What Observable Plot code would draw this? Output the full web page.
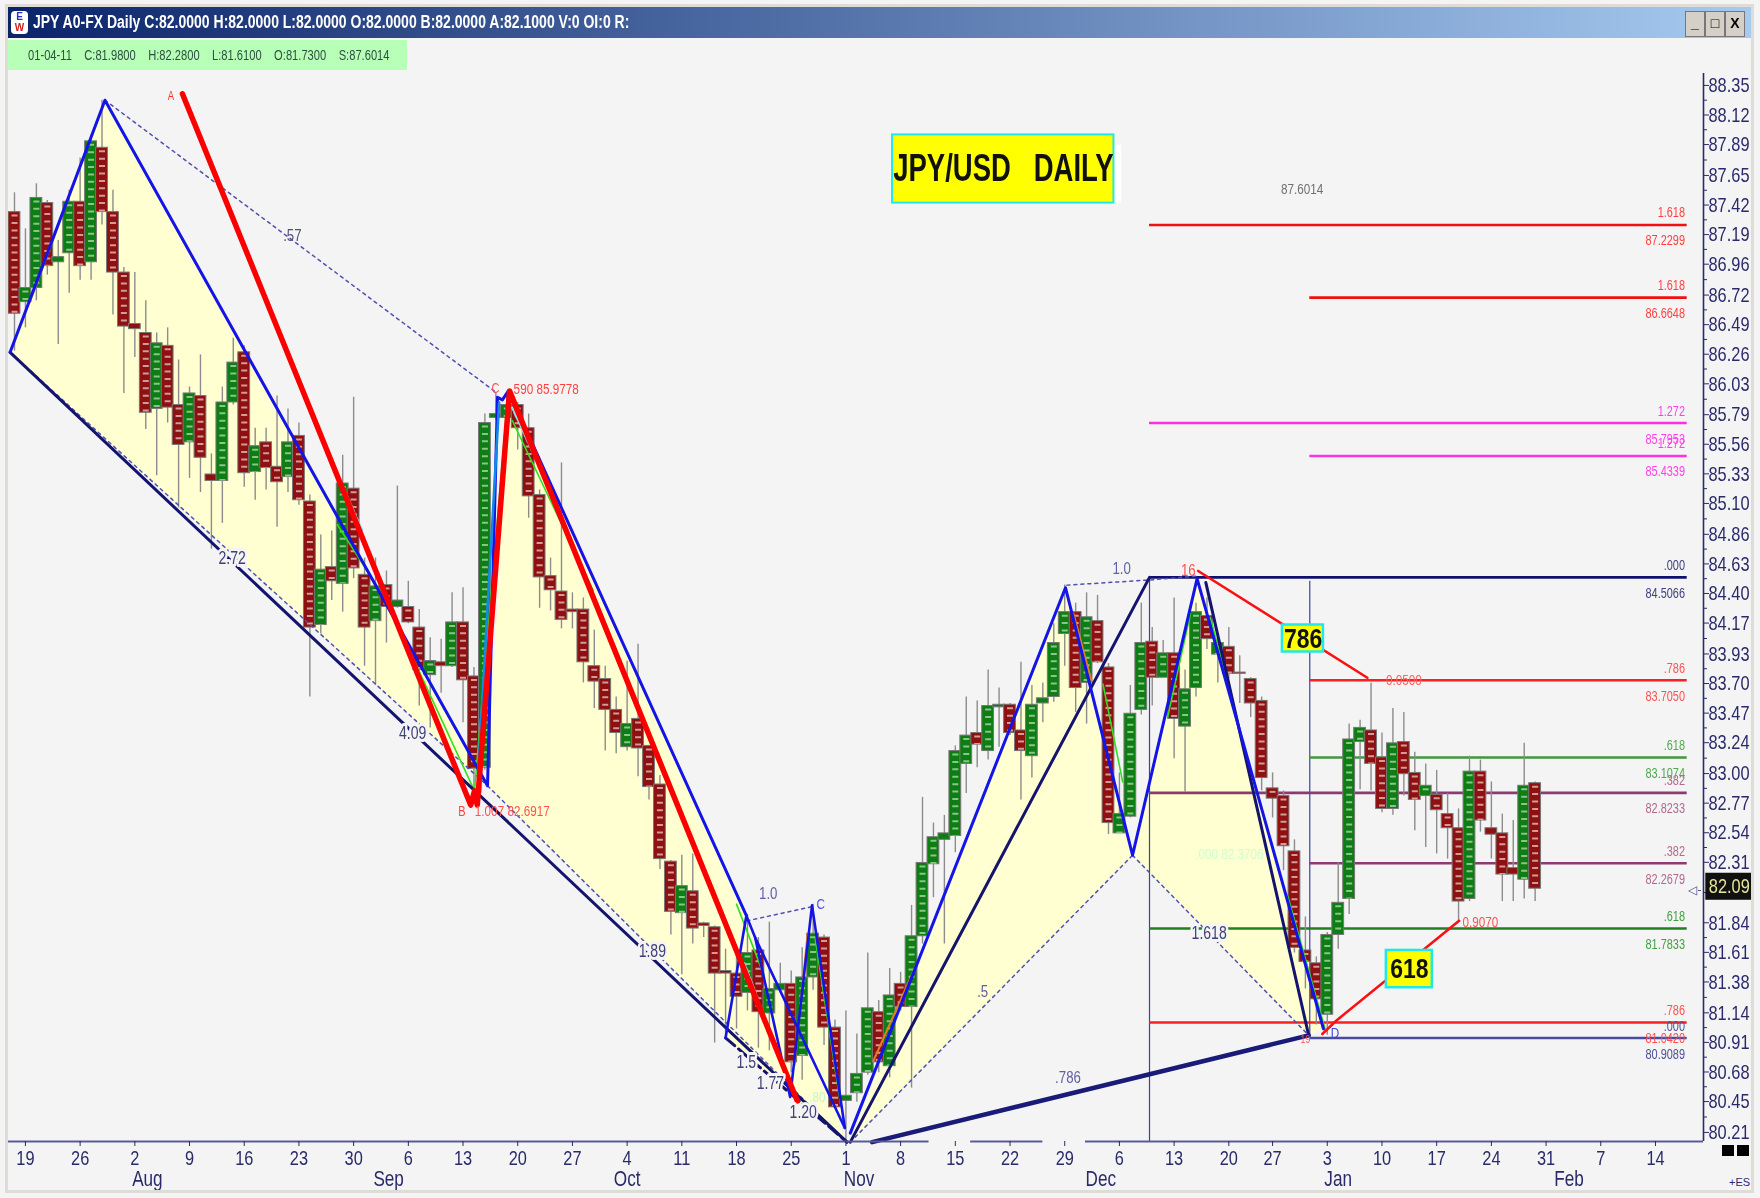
<!DOCTYPE html>
<html><head><meta charset="utf-8">
<script src="https://cdn.jsdelivr.net/npm/d3@7"></script>
<script src="https://cdn.jsdelivr.net/npm/@observablehq/plot@0.6"></script>
<style>
html,body{margin:0;padding:0;background:#f4f4f4;}
#win{position:relative;width:1760px;height:1198px;overflow:hidden;background:#f4f4f4;}
#frame{position:absolute;left:5px;top:4px;right:6px;bottom:5px;border:3px solid #dedcd6;pointer-events:none;z-index:5;}
#title{height:39px;box-sizing:border-box;padding:7px 9px 0 8px;}
#bar{height:31px;background:linear-gradient(90deg,#0a246a,#a6caf0);color:#fff;font:bold 17.5px "Liberation Sans",sans-serif;line-height:30px;white-space:nowrap;position:relative;filter:blur(.4px);}
#bar b{position:absolute;left:25px;top:0;display:block;transform:scaleX(.8);transform-origin:0 50%;}
#icon{position:absolute;left:3px;top:4px;width:17px;height:23px;background:#fff;border-radius:4px;font:bold 10px/11px "Liberation Sans";text-align:center;}
#icon i{font-style:normal;display:block;color:#2030d0;}
#icon u{text-decoration:none;display:block;color:#d02020;}
#btns{position:absolute;right:6px;top:4px;display:flex;}
#btns span{display:block;width:18px;height:24px;background:#d4d0c8;border:1px solid #777;color:#000;font:bold 14px/22px "Liberation Sans";text-align:center;}
#green{position:absolute;left:8px;top:40px;width:399px;height:30px;background:#b8ffb8;z-index:3;filter:blur(.4px);}
#green span{position:absolute;left:20px;top:0;color:#2c5040;font:15.5px/30px "Liberation Sans",sans-serif;white-space:pre;transform:scaleX(.72);transform-origin:0 50%;}
svg{display:block;filter:blur(.45px);}
#sq{position:absolute;left:1722px;top:1145px;width:27px;height:11px;background:linear-gradient(90deg,#000 46%,transparent 46%,transparent 54%,#000 54%);z-index:3;}
#es{position:absolute;left:1729px;top:1176px;font:11px "Liberation Sans";color:#2a2a6a;z-index:3;}
</style></head><body>
<div id="win">
<div id="frame"></div>
<div id="title"><div id="bar"><div id="icon"><i>E</i><u>W</u></div><b>JPY A0-FX Daily C:82.0000 H:82.0000 L:82.0000 O:82.0000 B:82.0000 A:82.1000 V:0 OI:0 R:</b><div id="btns"><span>_</span><span>□</span><span>X</span></div></div></div>
<div id="green"><span>01-04-11    C:81.9800    H:82.2800    L:81.6100    O:81.7300    S:87.6014</span></div>
<div id="chart"></div>
<div id="sq"></div><div id="es">+ES</div>
</div>
<script>
const open = [87.33,86.63,86.74,87.40,86.94,87.01,87.41,86.94,87.83,87.33,86.86,86.46,86.39,85.80,86.29,85.83,85.54,85.90,85.29,85.24,85.85,86.24,85.31,85.54,85.35,85.27,85.59,85.08,84.12,84.57,84.44,85.18,84.51,84.15,84.43,84.26,84.26,84.10,83.73,83.83,83.80,84.14,83.72,83.01,85.73,85.73,85.83,85.65,85.13,84.50,84.38,84.24,84.24,83.80,83.70,83.46,83.17,83.39,83.18,82.88,82.28,81.88,82.05,81.80,81.77,81.43,81.41,81.26,81.59,81.10,81.28,81.33,80.77,81.38,81.69,80.99,80.42,80.48,80.64,81.11,80.69,81.33,81.15,81.70,82.26,82.45,82.48,83.04,83.28,83.14,83.48,83.50,83.30,83.10,83.51,83.56,84.05,84.22,83.67,84.15,83.79,82.50,82.63,83.46,83.99,83.71,83.90,83.33,83.63,84.19,83.89,83.95,83.75,83.70,83.53,82.85,82.79,82.36,81.59,81.49,81.09,81.71,81.99,83.21,83.30,83.09,82.69,83.21,82.97,82.79,82.80,82.65,82.54,81.99,82.98,82.54,82.50,82.23,82.14,82.89];
const high = [87.48,87.20,87.55,87.42,87.11,87.50,87.75,87.93,88.20,87.50,86.90,86.86,86.64,86.39,86.43,86.18,85.97,86.22,85.45,85.97,86.35,86.29,85.65,85.65,85.90,85.80,85.69,85.13,84.82,84.85,85.44,85.89,84.64,84.64,84.54,85.20,84.46,84.24,84.02,84.01,84.37,84.41,83.79,85.76,85.92,85.92,85.85,85.76,85.17,84.64,85.38,84.37,84.33,84.08,83.80,83.56,83.84,83.97,83.18,82.95,82.29,82.33,82.34,81.81,81.78,81.60,81.60,81.87,81.69,81.81,81.49,81.43,81.61,81.95,81.71,81.05,81.12,80.94,81.57,81.20,81.45,81.42,81.94,82.78,82.58,82.64,83.18,83.56,83.53,83.77,83.63,83.51,83.83,83.65,83.67,84.13,84.43,84.29,84.37,84.35,83.82,82.97,83.65,84.29,84.10,84.00,84.33,83.77,84.29,84.33,84.05,84.10,83.88,83.71,83.56,82.97,82.83,82.45,81.85,81.54,81.73,82.27,83.35,83.38,83.67,83.28,83.47,83.44,83.13,83.04,82.99,82.81,82.69,83.10,83.07,82.90,82.65,82.60,83.20,82.90];
const low = [86.25,86.43,86.64,86.84,86.30,86.70,86.80,86.80,87.23,86.53,85.92,86.20,85.64,85.28,85.69,85.03,85.26,85.15,84.71,84.91,85.83,85.19,85.09,85.17,84.88,85.15,85.05,83.56,84.05,84.31,84.22,84.48,83.80,83.65,83.98,84.25,84.13,83.49,83.32,83.59,83.79,83.36,82.72,82.99,85.71,85.73,85.48,84.95,84.25,84.23,84.09,84.09,83.67,83.47,83.14,83.12,83.14,82.94,82.76,82.22,81.71,81.40,81.64,81.69,80.87,80.91,80.98,81.12,80.83,80.81,81.26,80.64,80.58,81.28,80.85,80.36,80.11,80.41,80.62,80.64,80.60,81.12,80.52,81.64,82.00,81.64,82.35,82.81,83.01,83.07,83.17,83.26,82.76,82.93,83.36,83.52,83.80,83.44,83.35,83.82,82.49,82.50,82.62,83.42,83.49,83.71,83.08,82.82,83.56,83.93,83.67,83.70,83.51,83.40,82.83,82.62,82.21,81.57,81.29,81.01,80.93,81.60,81.87,82.84,82.83,82.66,82.64,82.79,82.52,82.39,82.34,82.30,81.81,81.97,82.51,82.30,81.97,81.97,81.99,81.97];
const close = [86.54,86.74,87.44,86.91,86.98,87.41,86.91,87.88,87.33,86.86,86.44,86.42,85.77,86.31,85.81,85.52,85.92,85.42,85.24,85.85,86.16,85.30,85.51,85.34,85.23,85.54,85.09,84.10,84.55,84.46,85.22,84.56,84.10,84.42,84.26,84.31,84.14,83.77,83.84,83.80,84.14,83.69,83.00,85.69,85.76,85.83,85.65,85.12,84.49,84.39,84.16,84.22,83.83,83.68,83.46,83.28,83.35,83.16,82.86,82.30,81.89,82.09,81.76,81.78,81.41,81.41,81.23,81.57,81.11,81.29,81.33,80.72,81.38,81.72,80.99,80.37,80.46,80.63,81.14,80.72,81.24,81.15,81.70,82.27,82.47,82.50,83.14,83.26,83.19,83.49,83.50,83.28,83.14,83.50,83.55,83.98,84.22,83.63,84.18,83.83,82.58,82.65,83.43,83.98,83.71,83.90,83.39,83.62,84.22,84.01,83.98,83.74,83.74,83.51,82.93,82.77,82.40,81.61,81.50,81.21,81.71,81.96,83.23,83.32,83.04,82.69,83.20,82.96,82.76,82.87,82.68,82.54,81.97,82.98,82.60,82.49,82.18,82.18,82.87,82.07];

const dayBars = [1,6,11,16,21,26,31,36,41,46,51,56,61,66,71,76,81,86,91,96,101,106,111,115,120,125,130,135,140,145,150];
const dayLabels = ["19","26","2","9","16","23","30","6","13","20","27","4","11","18","25","1","8","15","22","29","6","13","20","27","3","10","17","24","31","7","14"];
const months = ["Aug","Sep","Oct","Nov","Dec","Jan","Feb"];
const monthBars = [12.15,34.2,56,77.2,99.3,121,142.1];
const priceLabels = [88.35,88.12,87.89,87.65,87.42,87.19,86.96,86.72,86.49,86.26,86.03,85.79,85.56,85.33,85.10,84.86,84.63,84.40,84.17,83.93,83.70,83.47,83.24,83.00,82.77,82.54,82.31,81.84,81.61,81.38,81.14,80.91,80.68,80.45,80.21];

// Fibonacci levels: height drawn, start bar, colour, upper label, printed value
const levels = [
 [87.2299,103.75,"#f01010","1.618","87.2299"],
 [86.6648,118.4,"#f01010","1.618","86.6648"],
 [85.69,103.75,"#ff30e0","1.272","85.7953"],
 [85.4339,118.4,"#ff30e0","1.272","85.4339"],
 [84.49,103.75,"#101070",".000","84.5066"],
 [83.69,118.4,"#f82020",".786","83.7050"],
 [83.09,118.4,"#40983c",".618","83.1074"],
 [82.815,103.75,"#8c3a70",".382","82.8233"],
 [82.2679,118.4,"#8c3a70",".382","82.2679"],
 [81.76,103.75,"#208020",".618","81.7833"],
 [81.03,103.75,"#f82020",".786","81.0420"],
 [80.9089,118.4,"#4a4aa0",".000","80.9089"]
];
const levelEnd = 152.9;
const levelColors = {"#f01010":"#ff4040","#f82020":"#ff5050","#ff30e0":"#ff40e8","#101070":"#404080","#40983c":"#50a850","#8c3a70":"#b06a90","#208020":"#40a040","#4a4aa0":"#505098"};

const fillA = [[-0.40,86.24],[8.27,88.20],[43.24,82.87]];
const fillB = [[43.24,82.87],[45.15,85.94],[76.05,80.10]];
const fillC = [[65.0,80.91],[66.9,81.86],[70.9,80.45]];
const fillD = [[70.9,80.45],[72.9,81.94],[75.9,80.21]];
const fillE = [[76.4,80.10],[96.07,84.41],[102.2,82.33]];
const fillF = [[102.2,82.33],[108.1,84.48],[119.65,80.98],[118.3,80.93]];

const bluePath = [[-0.40,86.24],[8.27,88.20],[43.24,82.87],[44.15,85.89],[44.6,85.87],[45.15,85.94],[66.9,81.86]];
const bluePath2 = [[65.0,80.91],[66.9,81.86],[67.7,81.69],[70.9,80.45],[72.9,81.94],[75.9,80.21]];
const bluePath3 = [[67.7,81.69],[75.9,80.21]];
const bluePath4 = [[76.4,80.17],[96.07,84.41],[102.2,82.33],[108.1,84.48],[119.65,80.98]];
const bluePath5 = [[42.4,82.99],[44.3,85.85]];
const navyA = [[-0.40,86.24],[76.1,80.10]];
const navyB = [[65.0,80.91],[76.1,80.10]];
const navyC = [[76.4,80.10],[103.75,84.49]];
const navyD = [[108.9,84.45],[118.3,80.93]];
const navyE = [[78.4,80.10],[118.3,80.93]];
const redA = [[15.35,88.25],[41.7,82.72],[42.05,82.83],[42.3,82.72],[45.25,85.94],[71.56,80.42]];
const redB = [[108.2,84.54],[123.66,83.71]];
const redC = [[119.55,80.94],[120.9,81.05],[132.05,81.82]];
const dotted = [
 [[8.27,88.20],[44.0,85.93]],
 [[-0.40,86.24],[43.24,82.87]],
 [[43.24,82.87],[76.05,80.10]],
 [[66.95,81.82],[72.9,81.93]],
 [[96.2,84.43],[103.8,84.47],[108.0,84.50]],
 [[76.4,80.10],[102.2,82.33]],
 [[102.2,82.33],[118.3,80.93]]
];
const greens = [[[29.5,84.90],[34.0,84.31],[42.05,82.83]],[[45.5,85.71],[52.9,84.39]],[[66.0,81.95],[68.5,81.40]],[[73.2,81.68],[75.5,80.40]],[[99.5,83.66],[101.3,82.90]],[[105.4,83.40],[107.5,84.21]],[[109.3,84.18],[111.5,83.48]],[[116.4,82.01],[119.8,80.98]],[[42.05,82.83],[45.0,85.80]]];
const oranges = [[[1.4,86.63],[6.8,87.87]],[[71.3,80.70],[72.5,81.72]],[[78.5,80.73],[82.6,81.51]],[[96.8,84.21],[98.5,83.67]],[[42.6,82.82],[42.9,83.6]]];
const cyans = [[[30,85.20],[31.8,84.85]],[[45.5,85.81],[47.4,85.46]],[[66.7,81.49],[68.0,81.20]]];

const notes = [
 ["A",14.3,88.23,"#ff3030",12],["B",40.9,82.67,"#ff4040",14],["1.007 82.6917",45.5,82.67,"#ff5050",15],
 ["C",43.96,85.96,"#ff5050",14],["590 85.9778",48.6,85.95,"#ff4040",15],
 ["16",107.3,84.54,"#ff5050",17],["0.0500",127.0,83.69,"#ff6060",15],["0.9070",134,81.81,"#ff5050",15],
 ["19",118,80.90,"#ff5050",11],
 [".57",25.4,87.15,"#50507a",17],["1.0",68.9,82.03,"#6060a8",17],["C",73.7,81.95,"#5050e0",15],["1.0",101.2,84.56,"#6060a8",17],
 [".5",88.5,81.27,"#6060a0",17],[".786",96.3,80.60,"#6060a0",17],
 ["87.6014",117.7,87.51,"#707070",15],[".000 82.3706",111.05,82.34,"#d0ffd0",15],[".80",73.4,80.45,"#c8f5c8",15],["D",120.7,80.95,"#4040e0",15]
];
const gapNotes = [["2.72",19.9,84.64],["4.09",36.4,83.28],["1.89",58.3,81.58],["1.5",66.9,80.72],["1.77",69.1,80.56],["1.20",72.1,80.33],["1.618",109.2,81.72]];

const axisSegments = [[-0.55,83.6],[87.4,94.0],[97.9,154.39]];
const minorTicks = priceLabels.slice(0,-1).map((d,i)=>(d+priceLabels[i+1])/2);

const bars = open.map((o,i)=>({i,o,h:high[i],l:low[i],c:close[i],up:close[i]>=o}));
const sans = '"Liberation Sans",sans-serif';
const seg = (pts,opts)=>Plot.line(pts,{x:d=>d[0],y:d=>d[1],...opts});
const box = (x1,x2,y1,y2,extra)=>Plot.rect([{x1,x2,y1,y2}],{x1:"x1",x2:"x2",y1:"y1",y2:"y2",...extra});

const chart = Plot.plot({
 width:1760,height:1152,marginLeft:8,marginRight:57,marginTop:34,marginBottom:50,
 style:{background:"transparent",overflow:"visible"},
 x:{domain:[-0.548,154.39],axis:null},
 y:{domain:[80.1046,88.4075],axis:null},
 marks:[
  ...[fillA,fillB,fillC,fillD,fillE,fillF].map(p=>seg(p,{fill:"#ffffd2",stroke:"none"})),
  Plot.ruleX([103.75],{y1:80.1046,y2:84.49,stroke:"#4040a0",strokeWidth:1.2}),
  Plot.ruleX([118.4],{y1:80.9089,y2:84.46,stroke:"#4040a0",strokeWidth:1.2}),
  Plot.ruleY(levels,{y:d=>d[0],x1:d=>d[1],x2:levelEnd,stroke:d=>d[2],strokeWidth:2.6}),
  Plot.ruleX(bars,{x:"i",y1:"l",y2:"h",stroke:"#8c8c8c",strokeWidth:1.4}),
  Plot.rect(bars,{x1:d=>d.i-0.54,x2:d=>d.i+0.54,y1:"o",y2:"c",fill:d=>d.up?"#0d7d14":"#8e1010",stroke:"#777",strokeWidth:1}),
  Plot.ruleX(bars.filter(d=>Math.abs(d.o-d.c)>0.07),{x:"i",y1:d=>Math.max(d.o,d.c),y2:d=>Math.min(d.o,d.c),stroke:d=>d.up?"#8cc48c":"#d49a9a",strokeWidth:6,strokeDasharray:"2,5.4",strokeDashoffset:-3}),
  ...dotted.map(p=>seg(p,{stroke:"#5050b0",strokeWidth:1.5,strokeDasharray:"3,4"})),
  ...greens.map(p=>seg(p,{stroke:"#30e020",strokeWidth:1.6})),
  ...oranges.map(p=>seg(p,{stroke:"#e08020",strokeWidth:2})),
  ...cyans.map(p=>seg(p,{stroke:"#90e0e8",strokeWidth:2.5,strokeDasharray:"3,2"})),
  seg(navyA,{stroke:"#14146e",strokeWidth:3}),
  seg(navyB,{stroke:"#14146e",strokeWidth:3,strokeDasharray:"12,5"}),
  seg(navyC,{stroke:"#14146e",strokeWidth:3}),
  seg(navyD,{stroke:"#14146e",strokeWidth:3}),
  seg(navyE,{stroke:"#1a1a78",strokeWidth:4.5}),
  seg(bluePath,{stroke:"#1414e6",strokeWidth:3}),
  seg(bluePath2,{stroke:"#1414e6",strokeWidth:2.6}),
  seg(bluePath3,{stroke:"#1414e6",strokeWidth:2.6}),
  seg(bluePath4,{stroke:"#1414e6",strokeWidth:3}),
  seg(bluePath5,{stroke:"#1488e6",strokeWidth:2.6}),
  seg(redA,{stroke:"#fb0000",strokeWidth:5.5}),
  seg(redB,{stroke:"#fa1010",strokeWidth:2.6}),
  seg(redC,{stroke:"#fa1010",strokeWidth:2.6}),
  Plot.text(gapNotes,{x:d=>d[1],y:d=>d[2],text:d=>d[0],fill:"#404078",stroke:"#f4f4f4",strokeWidth:6,fontSize:18,fontFamily:sans}),
  Plot.text(notes,{x:d=>d[1],y:d=>d[2],text:d=>d[0],fill:d=>d[3],fontSize:d=>d[4],fontFamily:sans}),
  Plot.text(levels,{x:152.7,y:d=>d[0],text:d=>d[3],fill:d=>levelColors[d[2]],textAnchor:"end",dy:-12,fontSize:14,fontFamily:sans}),
  Plot.text(levels,{x:152.7,y:d=>d[0],text:d=>d[4],fill:d=>levelColors[d[2]],textAnchor:"end",dy:16,fontSize:14,fontFamily:sans}),
  box(100.5,101.2,87.85,87.40,{fill:"#ffffff"}),
  box(80.26,100.5,87.93,87.40,{fill:"#ffff00",stroke:"#20e8e8",strokeWidth:2}),
  Plot.text(["JPY/USD\u00a0\u00a0\u00a0DAILY"],{x:90.4,y:87.67,fontSize:39,fontWeight:"bold",fontFamily:sans,fill:"#111"}),
  box(115.9,119.65,84.12,83.91,{fill:"#ffff00",stroke:"#20e8e8",strokeWidth:2.5}),
  Plot.text(["786"],{x:117.8,y:84.01,fontSize:27,fontWeight:"bold",fontFamily:sans,fill:"#111"}),
  box(125.4,129.6,81.59,81.30,{fill:"#ffff00",stroke:"#20e8e8",strokeWidth:2.5}),
  Plot.text(["618"],{x:127.5,y:81.44,fontSize:27,fontWeight:"bold",fontFamily:sans,fill:"#111"}),
  Plot.ruleX([154.39],{y1:80.1046,y2:88.4075,stroke:"#2a2a6a",strokeWidth:1.6}),
  Plot.ruleY(axisSegments,{y:80.1046,x1:d=>d[0],x2:d=>d[1],stroke:"#5a5a98",strokeWidth:2}),
  Plot.axisY({anchor:"right",ticks:minorTicks,tickFormat:()=>"",tickSize:3,dy:4.5,stroke:"#2a2a6a",label:null}),
  Plot.axisY({anchor:"right",ticks:priceLabels,tickFormat:d3.format(".2f"),tickSize:5,tickPadding:0,dy:4.5,fontSize:21,fontFamily:sans,color:"#2a2a6a",stroke:"#2a2a6a",label:null}),
  Plot.axisX({ticks:dayBars,tickFormat:d=>dayLabels[dayBars.indexOf(d)],tickSize:5,tickPadding:4,fontSize:21,fontFamily:sans,color:"#2a2a6a",stroke:"#2a2a6a",label:null}),
  Plot.text(months,{x:(d,i)=>monthBars[i],y:79.817,text:d=>d,fontSize:22,fontFamily:sans,fill:"#2a2a6a"}),
  box(154.6,158.9,82.19,81.98,{fill:"#111"}),
  Plot.text(["82.09"],{x:156.75,y:82.085,fontSize:21,fontFamily:sans,fill:"#e8e498"}),
  Plot.text(["◁-"],{x:153.6,y:82.06,fontSize:12,fill:"#505088"})
 ]
});
document.getElementById("chart").appendChild(chart);
// the reference's lettering is condensed: squeeze each label horizontally, keeping it real text
d3.select(chart).selectAll("text").each(function(){
  const t=this.textContent;
  if(!t||t==="◁-")return;
  const ratio=t.startsWith("JPY")?0.705:(t==="786"||t==="618")?0.85:0.78;
  const len=this.getComputedTextLength();
  if(len>0){this.setAttribute("textLength",(len*ratio).toFixed(1));this.setAttribute("lengthAdjust","spacingAndGlyphs");}
});
</script>
</body></html>
